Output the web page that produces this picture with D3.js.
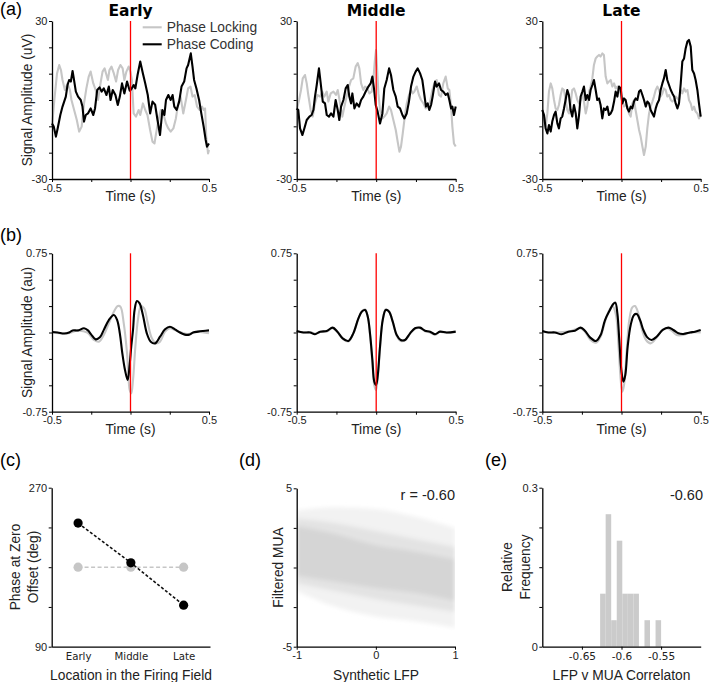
<!DOCTYPE html>
<html>
<head>
<meta charset="utf-8">
<script src="https://cdn.jsdelivr.net/npm/d3@7"></script>
<style>
  body { margin: 0; background: #fff; }
</style>
</head>
<body>
<script>
// ---- (a) raw traces, time in ms, amplitude in uV ----
const earlyCodingT = [-500,-489,-475,-464,-447,-433,-412,-401,-391,-380,-369,-363,-348,-334,-317,-306,-296,-285,-271,-254,-237,-226,-212,-197,-184,-170,-153,-138,-127,-113,-96,-81,-68,-54,-39,-22,-5,5,20,31,45,62,79,94,110,125,140,157,172,188,203,216,226,241,256,268,279,294,310,325,342,357,367,384,395,405,420,437,451,466,479,487,500];
const earlyCodingV = [-8.9,-10.1,-13.9,-10.8,-5.7,-2.5,1.3,5.7,7.6,7.0,11.0,8.9,3.2,1.3,0,-2.5,-8.2,-5.7,-5.1,-3.2,-5.7,-3.2,3.8,4.8,3.2,4.4,1.9,5.1,0,3.8,1.9,-1.9,1.3,6.3,2.5,7.0,3.5,4.1,5.7,4.4,9.5,14.6,10.1,6.3,1.9,-5.1,-0.6,-1.8,-7.6,-13.3,-3.8,-5.7,0,1.9,0,1.9,-2.5,-3.8,-0.6,5.1,7.0,12.0,13.3,17.7,12.7,7.6,4.4,0,-5.1,-10.1,-15.2,-17.7,-16.5];
const earlyLockingT = [-500,-485,-468,-454,-443,-433,-418,-401,-386,-376,-359,-342,-327,-311,-296,-281,-266,-254,-237,-222,-207,-191,-178,-165,-153,-144,-134,-121,-106,-92,-79,-64,-50,-39,-26,-12,-1,9,20,35,52,62,79,94,108,125,140,153,163,178,193,209,226,241,256,273,289,304,319,336,353,367,382,395,409,424,441,456,466,475,483,494,500];
const earlyLockingV = [-10.1,0,10.1,13.3,11.4,7.6,3.8,6.3,3.8,0,-3.8,-7.6,-12.0,-10.1,-1.3,4.4,8.9,10.8,6.3,3.8,0,6.3,10.8,12.0,9.5,7.6,11.4,12.7,10.1,7.0,11.4,13.3,12.0,7.6,10.8,12.7,10.8,7.6,-5.1,-6.3,-3.8,-5.7,-1.3,-3.8,-5.7,-11.4,-15.8,-16.5,-12.7,-7.6,-3.8,-5.1,-8.9,-10.8,-12.0,-10.8,-7.0,-1.3,1.3,-5.1,0,4.4,5.1,1.3,1.9,-2.5,-3.8,-2.5,-3.8,-3.2,-14.6,-20.3,-19.0];

const middleCodingT = [-500,-490,-479,-464,-452,-437,-420,-406,-395,-385,-374,-360,-349,-336,-322,-311,-297,-284,-269,-255,-242,-232,-221,-206,-192,-179,-169,-158,-150,-137,-123,-108,-95,-81,-66,-49,-35,-24,-14,-3,9,24,39,51,66,81,93,108,123,135,150,165,177,192,206,219,234,248,261,276,290,303,313,324,334,345,355,370,380,395,408,422,437,450,460,471,479,489,500];
const middleCodingV = [-3.2,-3.8,-10.8,-13.3,-10.8,-7.6,-6.3,-5.7,-3.8,1.3,5.7,12.0,6.3,-0.6,-1.3,-5.7,-6.3,-5.1,-6.3,0,-3.8,-7.6,-2.5,0,4.4,5.7,1.3,-1.3,2.5,-3.2,-1.3,-2.5,0,1.3,3.2,5.1,6.3,8.9,4.4,-1.9,-4.4,-8.9,-5.1,4.4,7.6,12.0,9.5,3.8,1.3,-2.5,-3.2,-5.7,-7.0,-5.1,-0.6,5.1,8.9,10.8,12.0,10.1,7.6,1.9,-2.5,-1.3,-3.8,-1.9,1.3,7.0,5.1,6.3,3.8,3.2,1.9,2.5,0,-3.2,-2.5,-5.7,-2.5];
const middleLockingT = [-500,-485,-473,-462,-448,-437,-427,-412,-399,-385,-370,-353,-339,-326,-311,-301,-286,-269,-253,-242,-227,-213,-200,-186,-171,-158,-144,-129,-116,-106,-95,-81,-70,-56,-43,-28,-18,-9,-1,5,14,24,39,51,66,81,93,108,123,135,146,156,167,181,192,206,219,230,240,255,269,282,297,311,324,339,353,366,380,395,408,422,437,450,460,471,479,489,500];
const middleLockingV = [-3.8,0,3.8,8.2,9.5,6.3,1.9,-3.8,-6.3,-1.3,1.9,1.3,3.2,1.3,3.2,-0.6,2.5,3.2,1.9,3.8,-1.3,-6.3,-2.5,1.3,5.1,7.6,8.2,12.7,14.0,12.0,6.3,3.8,5.1,4.4,2.5,3.2,7.6,14.6,19.0,12.7,2.5,-3.8,-7.0,-6.3,-5.1,-2.5,-3.8,-7.6,-11.4,-15.8,-19.6,-17.7,-12.7,-5.7,-1.3,1.9,3.8,2.5,3.2,5.1,1.9,0,-1.3,-3.2,-2.5,-0.6,3.8,6.3,7.6,1.9,1.3,6.3,8.9,4.4,3.8,-2.5,-10.1,-16.5,-17.7];

// late traces were read on one common clock
const lateT = [-500,-489,-479,-468,-458,-447,-437,-426,-416,-405,-395,-384,-374,-363,-353,-342,-332,-321,-311,-300,-289,-279,-268,-258,-247,-237,-226,-216,-205,-195,-184,-174,-163,-153,-142,-132,-121,-111,-100,-89,-79,-68,-58,-47,-37,-26,-16,-5,5,16,26,37,47,58,68,79,89,100,111,121,132,142,153,163,174,184,195,205,216,226,237,247,258,268,279,289,300,311,321,332,342,353,363,374,384,395,405,416,426,437,447,458,468,479,489,500];
const lateCodingV = [-3.8,-5.7,-10.8,-12.7,-9.5,-12.0,-8.2,-5.7,-4.4,-8.9,-10.8,-7.0,-6.3,-3.2,0,3.8,1.9,-3.8,-6.3,-1.9,-5.1,-10.8,-5.7,1.3,3.2,5.1,0,1.9,0,3.8,5.7,7.6,3.8,0,0.6,-1.9,-7.0,-3.2,-3.8,-2.5,-5.7,-5.1,-3.8,-0.6,3.2,1.3,5.1,4.4,-1.3,0.6,0,-3.2,-4.4,-2.5,-3.2,-0.6,0.6,0,3.2,3.8,1.9,0,-2.5,-0.6,-1.3,-3.8,-5.1,-6.3,-3.2,-1.3,0,3.8,6.3,8.2,11.4,7.6,5.7,3.8,2.5,1.3,-1.3,-3.2,-1.3,6.3,14.6,15.8,19.6,22.2,22.8,20.3,11.4,10.1,7.6,3.8,-1.3,-6.3];
const lateLockingV = [-3.8,-6.3,-10.1,-5.1,3.2,6.3,4.4,0,-3.2,-3.8,-1.9,1.9,4.4,3.8,0,-3.8,-5.1,-1.3,3.8,4.4,2.5,0,-1.3,0,2.5,-0.6,-5.1,-2.5,3.2,5.1,8.2,13.3,15.8,16.5,17.1,16.5,17.7,17.1,8.9,6.3,7.0,7.6,5.1,6.3,4.4,5.1,3.8,2.5,0,-2.5,-1.9,-2.5,-5.1,-6.3,-1.3,0,-3.8,-7.6,-11.4,-13.9,-17.7,-20.9,-17.7,-10.8,-5.1,-2.5,-0.6,1.3,3.8,5.1,3.8,1.3,2.5,4.4,3.8,1.3,1.9,0,-0.6,0,1.3,0.6,0,3.8,2.5,4.4,3.2,3.8,0,-1.3,-3.8,-2.5,-4.4,-5.1,-7.0,-5.7];

// ---- (b) averaged waveforms, time in ms, amplitude in au ----
const earlyBCodingT = [-500,-464,-422,-391,-369,-334,-296,-271,-250,-222,-195,-170,-138,-106,-85,-68,-52,-35,-18,-5,5,16,26,41,58,79,104,129,157,188,220,251,283,315,346,374,399,430,462,500];
const earlyBCodingV = [0.005,0,-0.01,0,0.02,0.02,0.04,0.02,-0.02,-0.065,-0.046,0.025,0.118,0.166,0.118,-0.008,-0.197,-0.355,-0.45,-0.30,-0.13,0.024,0.213,0.298,0.276,0.166,-0.008,-0.087,-0.103,-0.04,0.03,0.055,0.03,0,-0.02,-0.02,0,0.008,0.014,0.02];
const earlyBLockingT = [-500,-401,-338,-275,-233,-201,-170,-138,-106,-81,-64,-43,-22,-5,5,16,31,47,66,87,108,136,163,188,220,251,283,325,367,420,500];
const earlyBLockingV = [0,-0.008,0.017,0,-0.07,-0.087,-0.024,0.087,0.197,0.25,0.244,0.087,-0.197,-0.545,-0.576,-0.45,-0.134,0.118,0.25,0.229,0.103,-0.055,-0.103,-0.087,0.008,0.04,0.024,0,-0.014,0.008,-0.008];

const middleBT = [-500,-458,-416,-385,-353,-311,-274,-244,-211,-175,-144,-112,-91,-70,-53,-39,-24,-12,-1,9,24,41,60,81,104,129,154,181,213,244,276,307,339,370,401,443,500];
const middleBCodingV = [0.014,0,0,-0.017,0.008,0.014,0.046,0.008,-0.055,-0.08,-0.008,0.134,0.197,0.213,0.15,-0.008,-0.26,-0.466,-0.497,-0.418,-0.134,0.118,0.213,0.197,0.103,-0.024,-0.071,-0.071,-0.008,0.04,0.046,0.017,0.008,-0.017,0.008,0,0.008];
const middleBLockingV = [0.008,0,0.004,-0.01,0.004,0.01,0.04,0.004,-0.06,-0.085,-0.01,0.13,0.2,0.22,0.15,-0.02,-0.29,-0.5,-0.545,-0.44,-0.15,0.12,0.22,0.2,0.1,-0.03,-0.08,-0.075,-0.012,0.036,0.042,0.012,0,-0.022,0.004,-0.004,0.004];

const lateBCodingT = [-500,-462,-420,-378,-336,-294,-258,-231,-199,-161,-132,-104,-73,-52,-39,-26,-14,-1,12,24,39,58,79,96,117,138,163,190,222,260,296,327,359,390,433,464,500];
const lateBCodingV = [0.014,0,0,-0.017,0.008,0.017,0.046,0.017,-0.046,-0.08,-0.024,0.118,0.213,0.27,0.283,0.18,-0.07,-0.355,-0.466,-0.403,-0.134,0.071,0.166,0.175,0.118,0.024,-0.046,-0.071,-0.04,0.024,0.046,0.024,-0.008,-0.014,0,0.008,0.024];
const lateBLockingT = [-500,-420,-336,-262,-231,-199,-161,-132,-104,-77,-56,-35,-20,-5,5,16,33,49,68,85,106,127,155,184,218,254,285,317,348,390,433,500];
const lateBLockingV = [0.005,0,0.008,0.04,0.008,-0.065,-0.096,-0.04,0.103,0.213,0.25,0.166,-0.103,-0.45,-0.56,-0.497,-0.166,0.118,0.238,0.25,0.182,0.04,-0.071,-0.103,-0.055,0.017,0.04,0.017,-0.024,-0.024,0,0];

// ---- (c) phase at zero offset ----
const locations = ['Early', 'Middle', 'Late'];
const phaseCoding = [230, 185, 137];
const phaseLocking = [180, 180, 180];

// ---- (d) scatter cloud, drawn as density bands ----
const lfpX = [-1, -0.5, 0, 0.5, 1];
const muaOuterHi = [3.6, 3.8, 3.7, 3.2, 2.5];
const muaOuterLo = [-1.5, -2.5, -3.1, -3.4, -3.8];
const muaMidHi = [3.1, 2.8, 2.3, 1.8, 1.3];
const muaMidLo = [-1.0, -1.5, -2.0, -2.4, -2.8];
const muaCoreHi = [2.6, 2.1, 1.4, 1.0, 0.5];
const muaCoreLo = [-0.5, -0.9, -1.3, -1.6, -2.1];

// ---- (e) histogram of correlations ----
const corrEdges = [-0.627,-0.620,-0.613,-0.606,-0.599,-0.592,-0.585,-0.578,-0.571,-0.564,-0.557,-0.550];
const corrFreq = [0.1, 0.25, 0.05, 0.2, 0.1, 0.1, 0.1, 0, 0.05, 0, 0.05];

const SANS = 'Liberation Sans, Arial, sans-serif';
const VERD = 'DejaVu Sans, Verdana, sans-serif';
const GRAY = '#c6c6c6';
const TICK = 11;
const TITLE = 13.8;

const svg = d3.select('body').append('svg').attr('width', 709).attr('height', 682);

function styleAxis(g, font, size) {
  g.select('.domain').attr('stroke', '#000').attr('stroke-width', 1.3);
  g.selectAll('.tick line').attr('stroke', '#000').attr('stroke-width', 1);
  g.selectAll('.tick text').attr('font-family', font).attr('font-size', size).attr('fill', '#222');
}

function label(txt, x, y, opts = {}) {
  const t = svg.append('text')
    .attr('font-family', opts.font || SANS)
    .attr('font-size', opts.size || TITLE)
    .attr('font-weight', opts.weight || 'normal')
    .attr('fill', opts.fill || '#222')
    .attr('text-anchor', opts.anchor || 'middle')
    .text(txt);
  if (opts.rotate) t.attr('transform', `translate(${x},${y}) rotate(-90)`);
  else t.attr('x', x).attr('y', y);
  return t;
}

const show = (list) => (d) => (list.includes(d) ? String(d) : '');

const cols = [[52, 209], [296.7, 455.7], [542.3, 700.7]];

function tracePanel(col, yRange, yDomain, yTicks, series, curve) {
  const x = d3.scaleLinear().domain([-0.5, 0.5]).range(cols[col]);
  const y = d3.scaleLinear().domain(yDomain).range([yRange[1], yRange[0]]);
  const line = d3.line().x((d) => x(d[0] / 1000)).y((d) => y(d[1])).curve(curve);

  series.forEach((s) => {
    svg.append('path')
      .datum(d3.zip(s.t, s.v))
      .attr('d', line)
      .attr('fill', 'none')
      .attr('stroke', s.color)
      .attr('stroke-width', 2.1)
      .attr('stroke-linejoin', 'round');
  });

  svg.append('line')
    .attr('x1', x(0)).attr('x2', x(0))
    .attr('y1', y(yDomain[1])).attr('y2', y(yDomain[0]))
    .attr('stroke', '#ff0000').attr('stroke-width', 1.3);

  const gx = svg.append('g').attr('transform', `translate(0,${yRange[1]})`)
    .call(d3.axisBottom(x).tickValues([-0.5, -0.25, 0, 0.25, 0.5]).tickSize(3).tickSizeOuter(0)
      .tickPadding(2).tickFormat(show([-0.5, 0.5])));
  styleAxis(gx, SANS, TICK);

  const gy = svg.append('g').attr('transform', `translate(${cols[col][0]},0)`)
    .call(d3.axisLeft(y).tickValues(yTicks).tickSize(3).tickSizeOuter(0)
      .tickPadding(1.5).tickFormat(show([yDomain[0], yDomain[1]])));
  styleAxis(gy, SANS, TICK);
  return x;
}

// (a)
const aY = [21, 179];
const aTicks = [-30, -20, -10, 0, 10, 20, 30];
const aSets = [
  [{ t: earlyLockingT, v: earlyLockingV, color: GRAY }, { t: earlyCodingT, v: earlyCodingV, color: '#000' }],
  [{ t: middleLockingT, v: middleLockingV, color: GRAY }, { t: middleCodingT, v: middleCodingV, color: '#000' }],
  [{ t: lateT, v: lateLockingV, color: GRAY }, { t: lateT, v: lateCodingV, color: '#000' }]
];
const titles = ['Early', 'Middle', 'Late'];
aSets.forEach((s, i) => {
  const x = tracePanel(i, aY, [-30, 30], aTicks, s, d3.curveLinear);
  label(titles[i], x(0), 16, { font: VERD, size: 15.5, weight: 'bold', fill: '#000' });
  label('Time (s)', x(0), 201, {});
});

// (b)
const bY = [253.3, 411.7];
const bTicks = [-0.75, -0.5, -0.25, 0, 0.25, 0.5, 0.75];
const bSets = [
  [{ t: earlyBLockingT, v: earlyBLockingV, color: GRAY }, { t: earlyBCodingT, v: earlyBCodingV, color: '#000' }],
  [{ t: middleBT, v: middleBLockingV, color: GRAY }, { t: middleBT, v: middleBCodingV, color: '#000' }],
  [{ t: lateBLockingT, v: lateBLockingV, color: GRAY }, { t: lateBCodingT, v: lateBCodingV, color: '#000' }]
];
bSets.forEach((s, i) => {
  const x = tracePanel(i, bY, [-0.75, 0.75], bTicks, s, d3.curveCatmullRom.alpha(0.5));
  label('Time (s)', x(0), 433.5, {});
});

label('Signal Amplitude (uV)', 32, 100, { rotate: true });
label('Signal Amplitude (au)', 32, 332.5, { rotate: true });

// legend
svg.append('line').attr('x1', 142.7).attr('x2', 161.7).attr('y1', 27.3).attr('y2', 27.3)
  .attr('stroke', GRAY).attr('stroke-width', 2.1);
svg.append('line').attr('x1', 142.7).attr('x2', 161.7).attr('y1', 44.3).attr('y2', 44.3)
  .attr('stroke', '#000').attr('stroke-width', 2.1);
label('Phase Locking', 166.7, 32, { anchor: 'start', fill: '#333' });
label('Phase Coding', 166.7, 49, { anchor: 'start', fill: '#333' });

// (c)
{
  const x = d3.scalePoint().domain(locations).range([51.7, 210]).padding(0.5);
  const y = d3.scaleLinear().domain([90, 270]).range([646.7, 487.7]);
  const line = d3.line().x((d, i) => x(locations[i])).y((d) => y(d));

  svg.append('path').datum(phaseLocking).attr('d', line).attr('fill', 'none')
    .attr('stroke', GRAY).attr('stroke-width', 1.6).attr('stroke-dasharray', '4,2.5');
  svg.selectAll('.lockdot').data(phaseLocking).enter().append('circle')
    .attr('cx', (d, i) => x(locations[i])).attr('cy', (d) => y(d)).attr('r', 4.6).attr('fill', GRAY);

  svg.append('path').datum(phaseCoding).attr('d', line).attr('fill', 'none')
    .attr('stroke', '#111').attr('stroke-width', 1.6).attr('stroke-dasharray', '3,2');
  svg.selectAll('.codedot').data(phaseCoding).enter().append('circle')
    .attr('cx', (d, i) => x(locations[i])).attr('cy', (d) => y(d)).attr('r', 4.6).attr('fill', '#000');

  const gx = svg.append('g').attr('transform', 'translate(0,646.7)')
    .call(d3.axisBottom(x).tickSize(0).tickSizeOuter(0).tickPadding(6));
  styleAxis(gx, VERD, 10.2);
  const gy = svg.append('g').attr('transform', 'translate(51.7,0)')
    .call(d3.axisLeft(y).tickValues([90, 135, 180, 225, 270]).tickSize(3).tickSizeOuter(0)
      .tickPadding(1.5).tickFormat(show([90, 270])));
  styleAxis(gy, SANS, TICK);

  label('Phase at Zero', 20, 567, { rotate: true });
  label('Offset (deg)', 38, 567, { rotate: true });
  label('Location in the Firing Field', 131, 679.5);
}

// (d)
{
  const x = d3.scaleLinear().domain([-1, 1]).range([296.7, 455]);
  const y = d3.scaleLinear().domain([-5, 5]).range([646.7, 488.3]);

  const defs = svg.append('defs');
  defs.append('filter').attr('id', 'soft').attr('x', '-20%').attr('y', '-20%')
    .attr('width', '140%').attr('height', '140%')
    .append('feGaussianBlur').attr('stdDeviation', 2);
  defs.append('clipPath').attr('id', 'dclip').append('rect')
    .attr('x', x(-1)).attr('y', y(5)).attr('width', x(1) - x(-1)).attr('height', y(-5) - y(5));

  const band = (hi, lo) => d3.area()
    .x((d, i) => x(lfpX[i]))
    .y0((d, i) => y(lo[i]))
    .y1((d, i) => y(hi[i]))
    .curve(d3.curveMonotoneX)(lfpX);

  const cloud = svg.append('g').attr('clip-path', 'url(#dclip)')
    .append('g').attr('filter', 'url(#soft)');
  cloud.append('path').attr('d', band(muaOuterHi, muaOuterLo)).attr('fill', '#f2f2f2');
  cloud.append('path').attr('d', band(muaMidHi, muaMidLo)).attr('fill', '#e3e3e3');
  cloud.append('path').attr('d', band(muaCoreHi, muaCoreLo)).attr('fill', '#d5d5d5');

  const gx = svg.append('g').attr('transform', 'translate(0,646.7)')
    .call(d3.axisBottom(x).tickValues([-1, 0, 1]).tickSize(3).tickSizeOuter(0).tickPadding(2)
      .tickFormat((d) => String(d)));
  styleAxis(gx, SANS, TICK);
  const gy = svg.append('g').attr('transform', 'translate(296.7,0)')
    .call(d3.axisLeft(y).tickValues([-5, -2.5, 0, 2.5, 5]).tickSize(3).tickSizeOuter(0)
      .tickPadding(1.5).tickFormat(show([-5, 5])));
  styleAxis(gy, SANS, TICK);

  label('r = -0.60', 455, 500, { anchor: 'end', size: 14.5 });
  label('Filtered MUA', 283, 567.5, { rotate: true });
  label('Synthetic LFP', 376, 679.5);
}

// (e)
{
  const x = d3.scaleLinear().domain([-0.7, -0.5]).range([542.3, 700.7]);
  const y = d3.scaleLinear().domain([0, 0.3]).range([646.7, 487.7]);

  svg.selectAll('.bar').data(corrFreq).enter().append('rect')
    .attr('x', (d, i) => x(corrEdges[i]))
    .attr('width', (d, i) => x(corrEdges[i + 1]) - x(corrEdges[i]))
    .attr('y', (d) => y(d))
    .attr('height', (d) => y(0) - y(d))
    .attr('fill', '#cbcbcb');

  const gx = svg.append('g').attr('transform', 'translate(0,646.7)')
    .call(d3.axisBottom(x).tickValues([-0.65, -0.6, -0.55]).tickSize(3).tickSizeOuter(0).tickPadding(3.3)
      .tickFormat((d) => String(d)));
  styleAxis(gx, VERD, 10.5);
  const gy = svg.append('g').attr('transform', 'translate(542.3,0)')
    .call(d3.axisLeft(y).tickValues([0, 0.075, 0.15, 0.225, 0.3]).tickSize(3).tickSizeOuter(0)
      .tickPadding(1.5).tickFormat(show([0, 0.3])));
  styleAxis(gy, SANS, TICK);

  label('-0.60', 703, 500, { anchor: 'end', size: 14.5 });
  label('Relative', 511.5, 567, { rotate: true });
  label('Frequency', 530, 567, { rotate: true });
  label('LFP v MUA Correlaton', 621.5, 679.5);
}

// panel letters
label('(a)', 0, 15, { anchor: 'start', size: 18, fill: '#000' });
label('(b)', 0, 241, { anchor: 'start', size: 18, fill: '#000' });
label('(c)', 0, 466, { anchor: 'start', size: 18, fill: '#000' });
label('(d)', 239, 466, { anchor: 'start', size: 18, fill: '#000' });
label('(e)', 485, 466, { anchor: 'start', size: 18, fill: '#000' });
</script>
</body>
</html>
